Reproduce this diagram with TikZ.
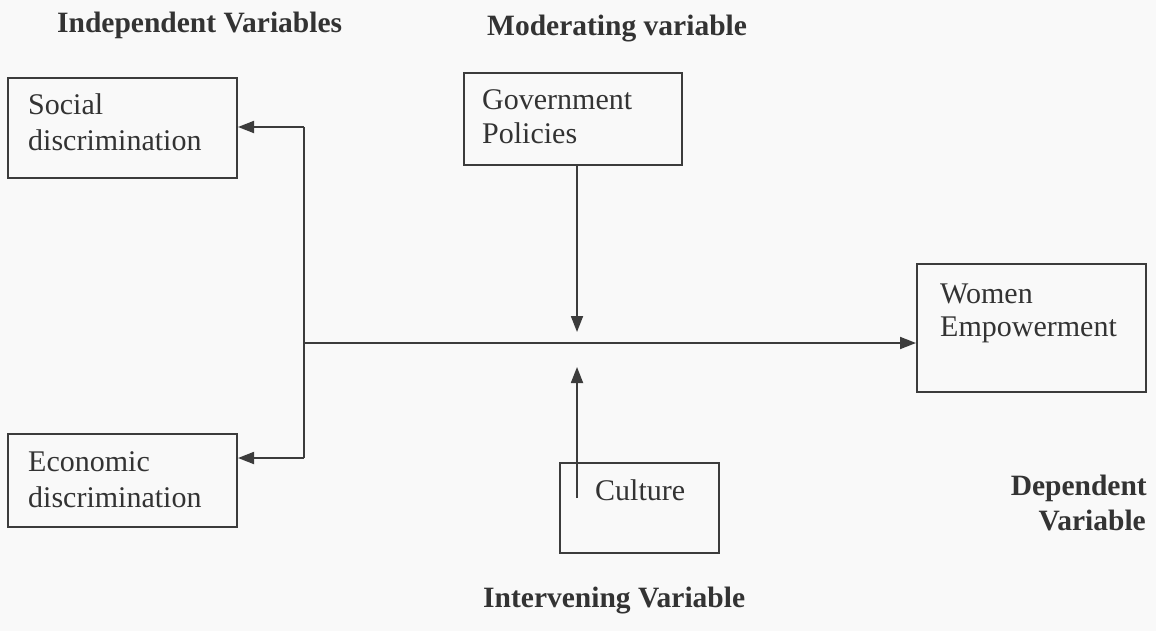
\documentclass[tikz,border=0pt]{standalone}
\usepackage{fontspec}
\setmainfont{Liberation Serif}
\usetikzlibrary{arrows.meta}
\definecolor{ink}{HTML}{333333}
\definecolor{linecol}{HTML}{3C3C3C}
\definecolor{paper}{HTML}{F9F9F9}
\begin{document}
\begin{tikzpicture}[x=1pt,y=-1pt,
  box/.style={draw=linecol, line width=2pt, rectangle, inner sep=0pt},
  txt/.style={anchor=base west, inner sep=0pt, text=ink, font=\fontsize{30}{36}\selectfont},
  head/.style={anchor=base west, inner sep=0pt, text=ink, font=\fontsize{29.5}{35}\selectfont\bfseries},
  conn/.style={draw=linecol, line width=1.8pt},
  arr/.style={conn, -{Triangle[length=16pt,width=12pt]}}
]
\fill[paper] (0,0) rectangle (1156,631);
\useasboundingbox (0,0) rectangle (1156,631);

% boxes
\node[box, minimum width=229pt, minimum height=100pt] (social) at (122.5,128) {};
\node[box, minimum width=229pt, minimum height=93pt] (econ) at (122.5,480.5) {};
\node[box, minimum width=218pt, minimum height=92pt] (gov) at (573,119) {};
\node[box, minimum width=229pt, minimum height=128pt] (women) at (1031.5,328) {};
\node[box, minimum width=159pt, minimum height=90pt] (culture) at (639.5,508) {};

% box texts
\node[txt] (socialA) at (28,115) {Social};
\node[txt] (socialB) at (28,151) {discrimination};
\node[txt] (econA) at (28,471) {Economic};
\node[txt] (econB) at (28,507) {discrimination};
\node[txt] (govA) at (482,110) {Government};
\node[txt] (govB) at (482,144) {Policies};
\node[txt] (womenA) at (940,303) {Women};
\node[txt] (womenB) at (940,336) {Empowerment};
\node[txt] (cultA) at (595,500) {Culture};

% headings
\node[head] (hInd) at (57,33) {Independent Variables};
\node[head] (hMod) at (487,36) {Moderating variable};
\node[head, anchor=base east] (hDep1) at (1147,495) {Dependent};
\node[head, anchor=base east] (hDep2) at (1146,530) {Variable};
\node[head] (hInt) at (483,607) {Intervening Variable};

% connectors
\coordinate (top) at (304,127);
\coordinate (bot) at (304,458);
\coordinate (mid) at (304,343);
\coordinate (govtip) at (577,332);
\coordinate (culttip) at (577,367);
\coordinate (cultstart) at (577,498);

\draw[conn] (top) -- (bot);
\draw[arr] (top) -- (top -| social.east);
\draw[arr] (bot) -- (bot -| econ.east);
\draw[arr] (mid) -- (mid -| women.west);
\draw[arr] (gov.south -| govtip) -- (govtip);
\draw[arr] (cultstart) -- (culttip);
\end{tikzpicture}
\end{document}
